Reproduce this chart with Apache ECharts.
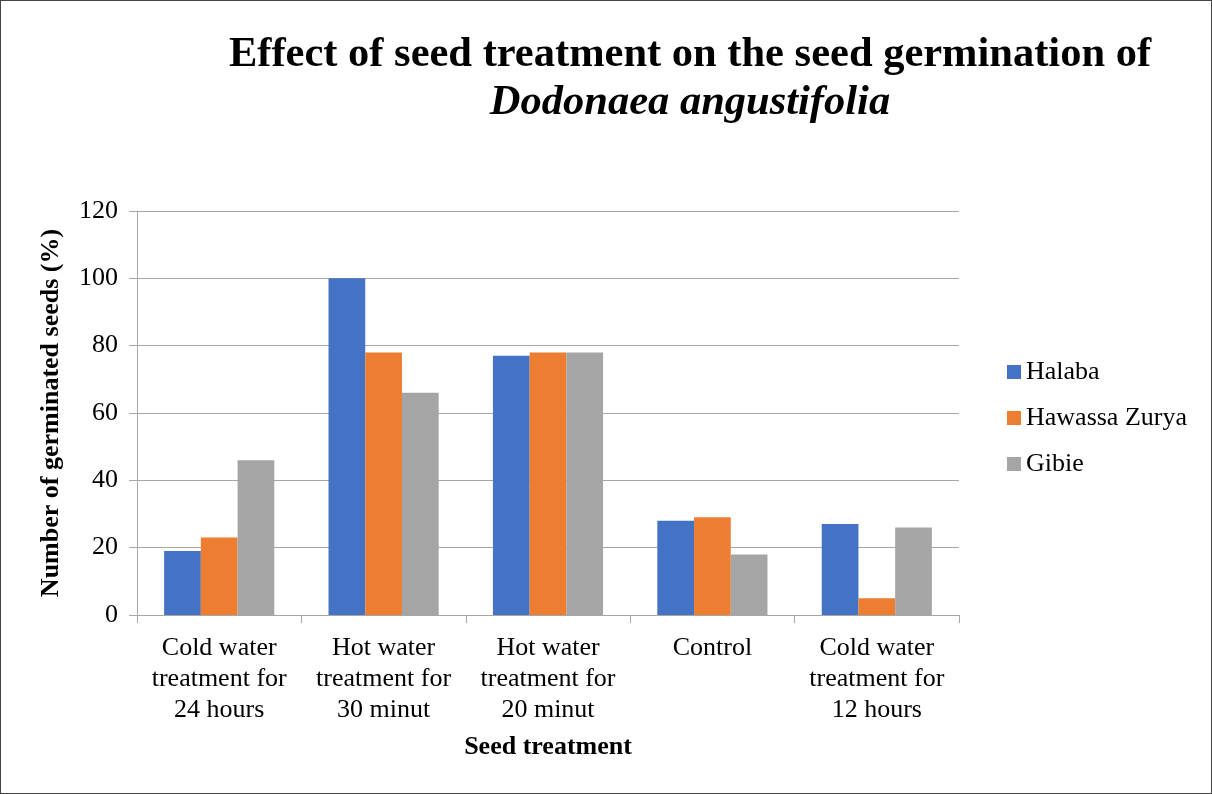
<!DOCTYPE html>
<html>
<head>
<meta charset="utf-8">
<script src="https://cdn.jsdelivr.net/npm/echarts@6/dist/echarts.min.js"></script>
<style>
    html, body {margin: 0; padding: 0; background: #fff;}
    #chart {width: 1212px; height: 794px; box-sizing: border-box; border: 1px solid #444;}
</style>
</head>
<body>
<div id="chart"></div>
<script>
const categories = [
    'Cold water\ntreatment for\n24 hours',
    'Hot water\ntreatment for\n30 minut',
    'Hot water\ntreatment for\n20 minut',
    'Control',
    'Cold water\ntreatment for\n12 hours'
];
const halaba = [19, 100, 77, 28, 27];
const hawassaZurya = [23, 78, 78, 29, 5];
const gibie = [46, 66, 78, 18, 26];
const yTicks = [0, 20, 40, 60, 80, 100, 120];

const FONT = '"Liberation Serif", "Times New Roman", serif';
const chart = echarts.init(document.getElementById('chart'));

const bar = (name, data, color) => ({
    name,
    type: 'bar',
    data,
    barGap: '0%',
    barCategoryGap: '33%',
    itemStyle: {color},
    emphasis: {disabled: true}
});

chart.setOption({
    animation: false,
    textStyle: {fontFamily: FONT},
    title: {
        left: 684,
        top: 25,
        textAlign: 'center',
        text: '{a|Effect of seed treatment on the seed germination of}\n{b|Dodonaea angustifolia}',
        textStyle: {
            rich: {
                a: {fontFamily: FONT, fontSize: 42.5, fontWeight: 'bold', color: '#000', lineHeight: 48},
                b: {fontFamily: FONT, fontSize: 42.5, fontWeight: 'bold', fontStyle: 'italic', color: '#000', lineHeight: 48}
            }
        }
    },
    legend: {
        orient: 'vertical',
        left: 1001,
        top: 353,
        itemWidth: 14,
        itemHeight: 14,
        itemGap: 20,
        icon: 'rect',
        textStyle: {fontFamily: FONT, fontSize: 26, color: '#000'},
        data: ['Halaba', 'Hawassa Zurya', 'Gibie']
    },
    grid: {left: 136, right: 252, top: 210, bottom: 178, containLabel: false},
    xAxis: {
        type: 'category',
        data: categories,
        name: 'Seed treatment',
        nameLocation: 'middle',
        nameGap: 119,
        nameTextStyle: {fontFamily: FONT, fontSize: 26, fontWeight: 'bold', color: '#000'},
        axisLine: {lineStyle: {color: '#a6a6a6'}},
        axisTick: {show: true, length: 8, lineStyle: {color: '#a6a6a6'}},
        axisLabel: {
            fontFamily: FONT, fontSize: 26, color: '#000',
            lineHeight: 31, margin: 18, interval: 0
        }
    },
    yAxis: {
        type: 'value',
        min: 0,
        max: 120,
        interval: 20,
        name: 'Number of germinated seeds (%)',
        nameLocation: 'middle',
        nameGap: 73,
        nameTextStyle: {fontFamily: FONT, fontSize: 26, fontWeight: 'bold', color: '#000'},
        axisLine: {show: true, lineStyle: {color: '#a6a6a6'}},
        axisTick: {show: true, length: 8, lineStyle: {color: '#a6a6a6'}},
        splitLine: {lineStyle: {color: '#a6a6a6'}},
        axisLabel: {
            fontFamily: FONT, fontSize: 26, color: '#000', margin: 19,
            formatter: v => (yTicks.includes(v) ? String(v) : '')
        }
    },
    series: [
        bar('Halaba', halaba, '#4472c4'),
        bar('Hawassa Zurya', hawassaZurya, '#ed7d31'),
        bar('Gibie', gibie, '#a5a5a5')
    ]
});
</script>
</body>
</html>
